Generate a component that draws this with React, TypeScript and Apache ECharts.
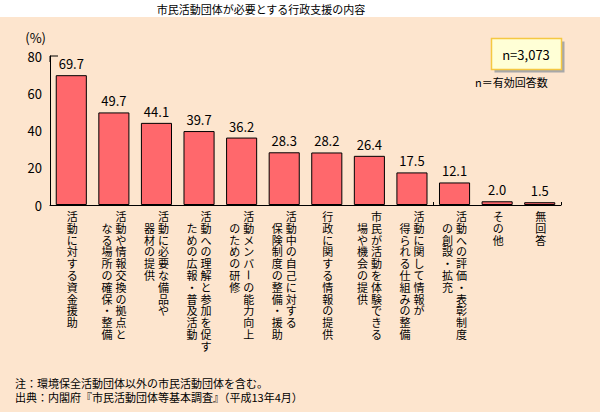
import React, { useEffect, useRef } from "react";
import * as echarts from "echarts";

const title = "市民活動団体が必要とする行政支援の内容";
const labelColumns: string[][] = [
  ["活動に対する資金援助"],
  ["活動や情報交換の拠点と", "なる場所の確保・整備"],
  ["活動に必要な備品や", "器材の提供"],
  ["活動への理解と参加を促す", "ための広報・普及活動"],
  ["活動メンバーの能力向上", "のための研修"],
  ["活動中の自己に対する", "保険制度の整備・援助"],
  ["行政に関する情報の提供"],
  ["市民が活動を体験できる", "場や機会の提供"],
  ["活動に関して情報が", "得られる仕組みの整備"],
  ["活動への評価・表彰制度", "の創設・拡充"],
  ["その他"],
  ["無回答"],
];
const categories = labelColumns.map((c) => c.join(""));
const values = [69.7, 49.7, 44.1, 39.7, 36.2, 28.3, 28.2, 26.4, 17.5, 12.1, 2.0, 1.5];
const yTicks = { min: 0, max: 80, interval: 20 };
const unitLabel = "(%)";
const sampleText = "n=3,073";
const sampleNote = "n＝有効回答数";
const footnotes = [
  "注：環境保全活動団体以外の市民活動団体を含む。",
  "出典：内閣府『市民活動団体等基本調査』（平成13年4月）",
];

const FONT = '"Noto Sans CJK JP", "Noto Sans", sans-serif';
const BG = "#FDE5CE";

export default function App() {
  const ref = useRef<HTMLDivElement>(null);
  useEffect(() => {
    if (!ref.current) return;
    const chart = echarts.init(ref.current, null, { renderer: "svg" });
    const gridLeft = 50;
    const gridTop = 56;
    const pitch = 11.8;
    const option: any = {
      animation: false,
      backgroundColor: BG,
      textStyle: { fontFamily: FONT },
      grid: { left: gridLeft, right: 39, top: gridTop, bottom: 207 },
      xAxis: {
        type: "category",
        data: categories,
        axisLine: { show: true, lineStyle: { color: "#000", width: 1 } },
        axisTick: { show: true, inside: true, length: 3, lineStyle: { color: "#000" } },
        axisLabel: { show: false },
      },
      yAxis: {
        type: "value",
        min: yTicks.min,
        max: yTicks.max,
        interval: yTicks.interval,
        name: unitLabel,
        nameLocation: "end",
        nameGap: 12,
        nameTextStyle: { color: "#000", fontSize: 13, fontFamily: FONT, align: "right", padding: [0, 4, 0, 0] },
        axisLine: { show: true, lineStyle: { color: "#000", width: 1 } },
        axisTick: { show: false },
        splitLine: { show: false },
        axisLabel: { color: "#000", fontSize: 13, margin: 8, fontFamily: FONT },
      },
      series: [
        {
          type: "bar",
          data: values,
          barCategoryGap: "27%",
          itemStyle: { color: "#FF686C", borderColor: "#000", borderWidth: 1 },
          label: {
            show: true,
            position: "top",
            distance: 5,
            color: "#000",
            fontSize: 13,
            fontFamily: FONT,
            formatter: (p: any) => Number(p.value).toFixed(1),
          },
        },
        {
          type: "custom",
          clip: false,
          silent: true,
          data: categories.map((_, i) => [i, 0]),
          encode: { x: 0, y: 1 },
          renderItem: (params: any, api: any) => {
            const idx = api.value(0);
            const pt = api.coord([idx, 0]);
            const cx = pt[0];
            const top = pt[1] + 11 - pitch / 2;
            const cols = labelColumns[idx];
            const children: any[] = [];
            cols.forEach((line, c) => {
              const x = cols.length === 1 ? cx + 1 : cx + (c === 0 ? 7 : -7);
              let pos = c === 0 ? 0 : 1;
              const chars = Array.from(line);
              let seg: string[] = [];
              const flush = () => {
                if (!seg.length) return;
                children.push({
                  type: "text",
                  x,
                  y: top + pos * pitch,
                  style: {
                    text: seg.join("\n"),
                    fill: "#000",
                    font: `11px ${FONT}`,
                    lineHeight: pitch,
                    align: "center",
                    verticalAlign: "top",
                  },
                });
                pos += seg.length;
                seg = [];
              };
              chars.forEach((ch) => {
                if (ch === "ー") {
                  flush();
                  children.push({
                    type: "text",
                    x,
                    y: top + pos * pitch + pitch / 2,
                    rotation: -Math.PI / 2,
                    style: {
                      text: ch,
                      fill: "#000",
                      font: `11px ${FONT}`,
                      lineHeight: pitch,
                      align: "center",
                      verticalAlign: "middle",
                    },
                  });
                  pos += 1;
                } else {
                  seg.push(ch);
                }
              });
              flush();
            });
            return { type: "group", children };
          },
        },
      ],
      graphic: [
        { type: "rect", left: 0, top: 0, shape: { width: 600, height: 17 }, style: { fill: "#fff" }, z: 0 },
        {
          type: "text",
          x: 261,
          y: 9,
          style: { text: title, fill: "#000", font: `11px ${FONT}`, align: "center", verticalAlign: "middle" },
        },
        {
          type: "polyline",
          shape: { points: [[gridLeft, gridTop + 6], [gridLeft, gridTop], [gridLeft + 8, gridTop]] },
          style: { stroke: "#000", lineWidth: 1, fill: null },
        },
        { type: "rect", shape: { x: 494.5, y: 41.5, width: 70, height: 31 }, style: { fill: "#A8A8A8" } },
        {
          type: "rect",
          shape: { x: 491.5, y: 38.5, width: 70, height: 31 },
          style: { fill: "#FFFFD6", stroke: "#F5C842", lineWidth: 1.5 },
        },
        {
          type: "text",
          x: 526,
          y: 54.5,
          style: { text: sampleText, fill: "#000", font: `13px ${FONT}`, align: "center", verticalAlign: "middle" },
        },
        {
          type: "text",
          x: 475,
          y: 82,
          style: { text: sampleNote, fill: "#000", font: `11px ${FONT}`, align: "left", verticalAlign: "middle" },
        },
        ...footnotes.map((t, i) => ({
          type: "text",
          x: 15,
          y: 383 + i * 14,
          style: { text: t, fill: "#000", font: `11px ${FONT}`, align: "left", verticalAlign: "middle" },
        })),
      ],
    };
    chart.setOption(option);
    return () => chart.dispose();
  }, []);
  return (
    <div
      ref={ref}
      style={{ position: "fixed", left: 0, top: 0, width: 600, height: 412 }}
    />
  );
}
